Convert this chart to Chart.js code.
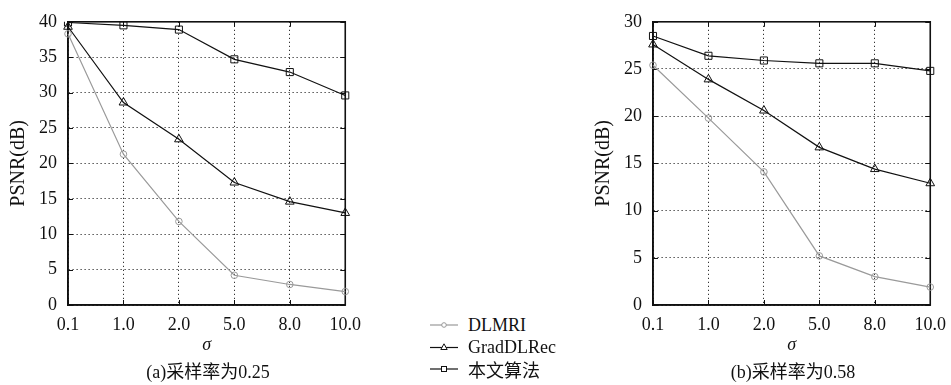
<!DOCTYPE html>
<html><head><meta charset="utf-8">
<script src="https://cdn.jsdelivr.net/npm/chart.js@4/dist/chart.umd.min.js"></script>
<style>
body{margin:0;background:#fff;width:951px;height:385px;position:relative;overflow:hidden;font-family:"Liberation Serif","Noto Sans CJK SC",serif;color:#111;}
canvas{position:absolute;top:0;}
.cap{position:absolute;font-size:18px;transform:translate(-50%,-50%);white-space:nowrap;}
.leg{position:absolute;left:430px;font-size:18px;}
.row{position:absolute;left:0;height:20px;white-space:nowrap;transform:translateY(-50%);display:flex;align-items:center;}
.row svg{margin-right:10px;}
</style></head>
<body>
<canvas id="ca" width="370" height="385" style="left:0px"></canvas>
<canvas id="cb" width="370" height="385" style="left:585px"></canvas>
<div class="cap" style="left:208px;top:370px">(a)采样率为0.25</div>
<div class="cap" style="left:793px;top:370px">(b)采样率为0.58</div>
<div class="leg">
  <div class="row" style="top:325px"><svg width="28" height="10"><line x1="0" y1="5" x2="28" y2="5" stroke="#999" stroke-width="1.2"/><circle cx="14" cy="5" r="2.3" fill="#fff" stroke="#999" stroke-width="1"/></svg><span>DLMRI</span></div>
  <div class="row" style="top:347px"><svg width="28" height="10"><line x1="0" y1="5.5" x2="28" y2="5.5" stroke="#111" stroke-width="1.2"/><polygon points="14,1.8 17.2,7.5 10.8,7.5" fill="#fff" stroke="#111" stroke-width="1"/></svg><span>GradDLRec</span></div>
  <div class="row" style="top:369px"><svg width="28" height="10"><line x1="0" y1="5" x2="28" y2="5" stroke="#111" stroke-width="1.2"/><rect x="11.5" y="2.5" width="5" height="5" fill="#fff" stroke="#111" stroke-width="1"/></svg><span>本文算法</span></div>
</div>
<script>
const categories = ['0.1','1.0','2.0','5.0','8.0','10.0'];
const seriesNames = ['DLMRI','GradDLRec','本文算法'];
// (a) sampling rate 0.25
const a_DLMRI = [38.3, 21.3, 11.8, 4.2, 2.9, 1.9];
const a_GradDLRec = [39.3, 28.6, 23.4, 17.3, 14.6, 13.0];
const a_Ours = [39.9, 39.5, 38.9, 34.7, 32.9, 29.6];
// (b) sampling rate 0.58
const b_DLMRI = [25.4, 19.8, 14.1, 5.2, 3.0, 1.9];
const b_GradDLRec = [27.6, 23.9, 20.6, 16.7, 14.4, 12.9];
const b_Ours = [28.5, 26.4, 25.9, 25.6, 25.6, 24.8];
const yMaxA = 40, yMaxB = 30, yStep = 5;
const xTitle = 'σ';
const yTitle = 'PSNR(dB)';

const FONT = '"Liberation Serif","Noto Sans CJK SC",serif';

const framePlugin = {
  id: 'frame',
  beforeDatasetsDraw(chart) {
    const {ctx, chartArea: a, scales} = chart;
    ctx.save();
    ctx.strokeStyle = '#111';
    ctx.lineWidth = 1;
    const tl = 5;
    ctx.beginPath();
    scales.y.ticks.forEach((t, i) => {
      const p = Math.round(scales.y.getPixelForTick(i)) + 0.5;
      ctx.moveTo(a.left, p); ctx.lineTo(a.left + tl, p);
      ctx.moveTo(a.right, p); ctx.lineTo(a.right - tl, p);
    });
    scales.x.ticks.forEach((t, i) => {
      const p = Math.round(scales.x.getPixelForTick(i)) + 0.5;
      ctx.moveTo(p, a.bottom); ctx.lineTo(p, a.bottom - tl);
      ctx.moveTo(p, a.top); ctx.lineTo(p, a.top + tl);
    });
    ctx.stroke();
    ctx.lineWidth = 1.6;
    ctx.strokeRect(a.left, a.top, a.right - a.left, a.bottom - a.top);
    ctx.restore();
  }
};

function makeChart(id, d1, d2, d3, yMax) {
  return new Chart(document.getElementById(id), {
    type: 'line',
    data: {
      labels: categories,
      datasets: [
        {label: seriesNames[0], data: d1, borderColor: '#9a9a9a', borderWidth: 1.2,
         pointStyle: 'circle', pointRadius: 3.3, pointBorderWidth: 1, pointBorderColor: '#9a9a9a',
         pointBackgroundColor: 'rgba(255,255,255,0)', tension: 0},
        {label: seriesNames[1], data: d2, borderColor: '#111', borderWidth: 1.2,
         pointStyle: 'triangle', pointRadius: 5, pointBorderWidth: 1, pointBorderColor: '#111',
         pointBackgroundColor: 'rgba(255,255,255,0)', tension: 0},
        {label: seriesNames[2], data: d3, borderColor: '#111', borderWidth: 1.2,
         pointStyle: 'rect', pointRadius: 5, pointBorderWidth: 1, pointBorderColor: '#111',
         pointBackgroundColor: 'rgba(255,255,255,0)', tension: 0}
      ]
    },
    options: {
      responsive: false, animation: false, devicePixelRatio: 1,
      layout: {padding: {left: 0, top: 15, right: 22, bottom: 25}},
      plugins: {legend: {display: false}, tooltip: {enabled: false}},
      scales: {
        x: {
          type: 'category', offset: false,
          grid: {color: '#000', lineWidth: 1, drawTicks: false},
          border: {display: true, color: '#111', width: 1.6, dash: [1, 3]},
          ticks: {color: '#111', padding: 9, font: {family: FONT, size: 18}, maxRotation: 0, autoSkip: false},
          title: {display: true, text: xTitle, color: '#111', padding: {top: 0, bottom: 4},
                  font: {family: FONT, size: 18, style: 'italic'}},
          afterFit(s) { s.height = 55; }
        },
        y: {
          min: 0, max: yMax,
          grid: {color: '#000', lineWidth: 1, drawTicks: false},
          border: {display: true, color: '#111', width: 1.6, dash: [1, 3]},
          ticks: {stepSize: yStep, color: '#111', padding: 11, font: {family: FONT, size: 18}},
          title: {display: true, text: yTitle, color: '#111', padding: {top: 7, bottom: 0},
                  font: {family: FONT, size: 20}},
          afterFit(s) { s.width = 68; }
        }
      }
    },
    plugins: [framePlugin]
  });
}
makeChart('ca', a_DLMRI, a_GradDLRec, a_Ours, yMaxA);
makeChart('cb', b_DLMRI, b_GradDLRec, b_Ours, yMaxB);
</script>
</body></html>
